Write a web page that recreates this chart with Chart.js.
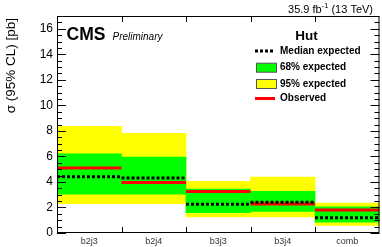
<!DOCTYPE html>
<html>
<head>
<meta charset="utf-8">
<script src="https://cdn.jsdelivr.net/npm/chart.js@4.4.0/dist/chart.umd.min.js"></script>
<style>
  html, body { margin: 0; padding: 0; background: #fff; }
  #wrap { width: 382px; height: 247px; }
</style>
</head>
<body>
<div id="wrap"><canvas id="myChart" width="382" height="247"></canvas></div>
<script>
// values
var categories = ["b2j3", "b2j4", "b3j3", "b3j4", "comb"];
var median = [4.4, 4.3, 2.25, 2.4, 1.2];
var observed = [5.1, 3.95, 3.25, 2.27, 1.8];
var band68Low = [3.05, 3.05, 1.6, 1.7, 0.85];
var band68High = [6.2, 5.95, 3.45, 3.27, 2.05];
var band95Low = [2.3, 2.3, 1.25, 1.25, 0.6];
var band95High = [8.35, 7.8, 4.05, 4.38, 2.35];
var yTicks = [0, 2, 4, 6, 8, 10, 12, 14, 16];
var yMax = 17;
var yMinorStep = 0.5;

var legendTitle = "Hut";
var legendLabels = ["Median expected", "68% expected", "95% expected", "Observed"];

var FONT = "'Liberation Sans', Arial, Helvetica, sans-serif";

function bandData(lo, hi) {
  var out = [];
  for (var i = 0; i < lo.length; i++) out.push([lo[i], hi[i]]);
  return out;
}

// horizontal segment across each bin, broken between bins
function stepSegments(vals) {
  var out = [];
  for (var i = 0; i < vals.length; i++) {
    out.push({ x: i, y: vals[i] });
    out.push({ x: i + 1, y: vals[i] });
    out.push({ x: i + 1, y: null });
  }
  return out;
}

var framePlugin = {
  id: 'frame',
  afterDraw: function(chart) {
    var ctx = chart.ctx;
    var a = chart.chartArea;
    var ys = chart.scales.y;
    var xs = chart.scales.x2;
    ctx.save();

    // frame
    ctx.strokeStyle = '#000';
    ctx.lineWidth = 1;
    ctx.strokeRect(a.left + 0.5, a.top + 0.5, a.right - a.left - 1, a.bottom - a.top - 1);

    // y ticks, left and right, pointing inwards
    ctx.beginPath();
    for (var v = 0; v <= yMax + 1e-9; v += yMinorStep) {
      var py = Math.round(ys.getPixelForValue(v)) + 0.5;
      var len = yTicks.indexOf(v) >= 0 ? 9 : 5;
      ctx.moveTo(a.left, py); ctx.lineTo(a.left + len, py);
      ctx.moveTo(a.right, py); ctx.lineTo(a.right - len, py);
    }
    // x ticks at bin edges
    for (var i = 1; i < categories.length; i++) {
      var px = Math.round(xs.getPixelForValue(i)) + 0.5;
      ctx.moveTo(px, a.bottom); ctx.lineTo(px, a.bottom - 6);
      ctx.moveTo(px, a.top); ctx.lineTo(px, a.top + 6);
    }
    ctx.stroke();

    // CMS label
    ctx.fillStyle = '#000';
    ctx.textBaseline = 'alphabetic';
    ctx.textAlign = 'left';
    ctx.font = 'bold 17.5px ' + FONT;
    ctx.fillText('CMS', 66.5, 40);
    ctx.font = 'italic 10px ' + FONT;
    ctx.fillText('Preliminary', 112.5, 39.5);

    // lumi label with superscript
    var right = 373;
    ctx.font = '11px ' + FONT;
    var t1 = '35.9 fb', t3 = ' (13 TeV)';
    var w1 = ctx.measureText(t1).width;
    var w3 = ctx.measureText(t3).width;
    ctx.font = '7.5px ' + FONT;
    var w2 = ctx.measureText('-1').width;
    var x0 = right - w1 - w2 - w3;
    ctx.font = '11px ' + FONT;
    ctx.fillText(t1, x0, 12.5);
    ctx.fillText(t3, x0 + w1 + w2, 12.5);
    ctx.font = '7.5px ' + FONT;
    ctx.fillText('-1', x0 + w1, 8);

    // y axis title
    ctx.save();
    ctx.translate(15, 18);
    ctx.rotate(-Math.PI / 2);
    ctx.textAlign = 'right';
    ctx.font = '13.5px ' + FONT;
    ctx.fillText('\u03c3 (95% CL) [pb]', 0, 0);
    ctx.restore();

    // legend
    ctx.textAlign = 'center';
    ctx.font = 'bold 13.5px ' + FONT;
    ctx.fillText(legendTitle, 306.5, 40);

    var rows = [51, 67.7, 84, 98.5];
    var sx0 = 255, sx1 = 275;
    // median
    ctx.strokeStyle = '#000';
    ctx.lineWidth = 3;
    ctx.setLineDash([3, 2]);
    ctx.beginPath(); ctx.moveTo(sx0, rows[0]); ctx.lineTo(sx1, rows[0]); ctx.stroke();
    ctx.setLineDash([]);
    // 68%
    ctx.fillStyle = '#00ff00';
    ctx.fillRect(sx0 + 1, rows[1] - 4.5, 20, 9);
    ctx.strokeStyle = '#555';
    ctx.lineWidth = 1;
    ctx.strokeRect(sx0 + 1.5, rows[1] - 4.5, 20, 9);
    // 95%
    ctx.fillStyle = '#ffff00';
    ctx.fillRect(sx0 + 1, rows[2] - 4.5, 20, 9);
    ctx.strokeRect(sx0 + 1.5, rows[2] - 4.5, 20, 9);
    // observed
    ctx.strokeStyle = '#ff0000';
    ctx.lineWidth = 3;
    ctx.beginPath(); ctx.moveTo(sx0, rows[3]); ctx.lineTo(sx1, rows[3]); ctx.stroke();

    ctx.fillStyle = '#000';
    ctx.textAlign = 'left';
    ctx.textBaseline = 'middle';
    ctx.font = 'bold 10px ' + FONT;
    for (var k = 0; k < legendLabels.length; k++) {
      ctx.fillText(legendLabels[k], 280, rows[k]);
    }
    ctx.restore();
  }
};

function init() {
  var ctx = document.getElementById('myChart').getContext('2d');
  var chart = new Chart(ctx, {
    type: 'bar',
    data: {
      labels: categories,
      datasets: [
        {
          type: 'line',
          label: 'Median expected',
          data: stepSegments(median),
          xAxisID: 'x2',
          borderColor: '#000',
          borderWidth: 3,
          borderDash: [3, 2],
          pointRadius: 0,
          spanGaps: false,
          order: 0
        },
        {
          type: 'line',
          label: 'Observed',
          data: stepSegments(observed),
          xAxisID: 'x2',
          borderColor: '#ff0000',
          borderWidth: 3,
          pointRadius: 0,
          spanGaps: false,
          order: 1
        },
        {
          label: '68% expected',
          data: bandData(band68Low, band68High),
          backgroundColor: '#00ff00',
          borderWidth: 0,
          barPercentage: 1,
          categoryPercentage: 1,
          grouped: false,
          order: 2
        },
        {
          label: '95% expected',
          data: bandData(band95Low, band95High),
          backgroundColor: '#ffff00',
          borderWidth: 0,
          barPercentage: 1,
          categoryPercentage: 1,
          grouped: false,
          order: 3
        }
      ]
    },
    options: {
      responsive: false,
      animation: false,
      layout: { padding: { top: 16, right: 2.5, left: 0, bottom: 0 } },
      plugins: {
        legend: { display: false },
        tooltip: { enabled: false }
      },
      scales: {
        x: {
          type: 'category',
          grid: { display: false, drawTicks: false },
          border: { display: false },
          ticks: { font: { family: FONT, size: 9 }, color: '#333', padding: 3 },
          afterFit: function(scale) { scale.height = 14; }
        },
        x2: {
          type: 'linear',
          display: false,
          offset: false,
          min: 0,
          max: categories.length
        },
        y: {
          min: 0,
          max: yMax,
          grid: { display: false, drawTicks: false },
          border: { display: false },
          ticks: {
            autoSkip: false,
            font: { family: FONT, size: 12 },
            color: '#000',
            padding: 4
          },
          afterBuildTicks: function(scale) {
            scale.ticks = yTicks.map(function(v) { return { value: v }; });
          },
          afterFit: function(scale) { scale.width = 57; }
        }
      }
    },
    plugins: [framePlugin]
  });
}

init();
</script>
</body>
</html>
